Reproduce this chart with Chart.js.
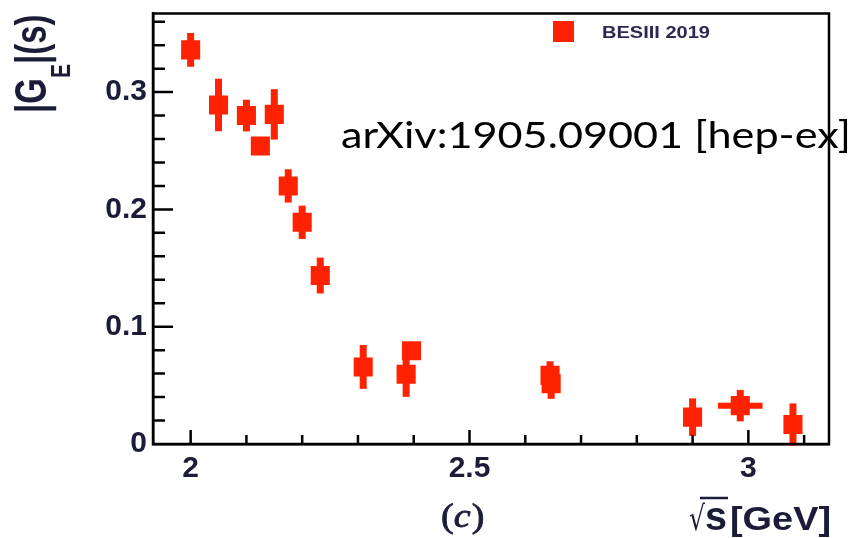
<!DOCTYPE html>
<html>
<head>
<meta charset="utf-8">
<title>|GE|(s) BESIII 2019</title>
<script src="https://cdn.jsdelivr.net/npm/chart.js@4.4.1/dist/chart.umd.min.js"></script>
<style>
	html, body { margin: 0; padding: 0; background: #ffffff; }
	canvas { display: block; }
</style>
</head>
<body>
<canvas id="myChart" width="858" height="538"></canvas>
<script>
// values
var energy = [2.0, 2.05, 2.1, 2.125, 2.15, 2.175, 2.2, 2.2324, 2.3094, 2.3864, 2.396, 2.6444, 2.6464, 2.9, 2.9855, 3.08]
var formFactor = [0.336, 0.289, 0.28, 0.254, 0.281, 0.22, 0.189, 0.1436, 0.0657, 0.0595, 0.0795, 0.0585, 0.0515, 0.0229, 0.0327, 0.0166]
var formFactorErr = [0.0144, 0.0224, 0.0135, 0.006, 0.0215, 0.0142, 0.0142, 0.0153, 0.0187, 0.0193, 0.005, 0.012, 0.013, 0.016, 0.0134, 0.018]
var energyErr = [0, 0, 0, 0, 0, 0, 0, 0, 0, 0, 0, 0, 0, 0, 0.04, 0]
var xTickLabels = [2, 2.5, 3]
var yTickLabels = [0, 0.1, 0.2, 0.3]
var seriesName = "BESIII 2019"
var noteText = "arXiv:1905.09001 [hep-ex]"

var red = "#ff2200"
var ink = "#1b1d38"

function onStep(v, step) {
	return Math.abs(v / step - Math.round(v / step)) < 1e-6
}

function labelFor(list) {
	return function (value) {
		for (var i = 0; i < list.length; i++) {
			if (Math.abs(value - list[i]) < 1e-6) return String(list[i])
		}
		return ""
	}
}

// every minor step between the axis limits
function stepTicks(step) {
	return function (scale) {
		var out = []
		for (var k = Math.ceil(scale.min / step - 1e-9); k * step <= scale.max + 1e-9; k++) {
			out.push({value: Math.round(k * step * 1e6) / 1e6})
		}
		scale.ticks = out
	}
}

// draw text squeezed/stretched to a given width
function fitText(ctx, text, x, y, font, width) {
	ctx.font = font
	var w = ctx.measureText(text).width
	ctx.save()
	ctx.translate(x, y)
	ctx.scale(width / w, 1)
	ctx.fillText(text, 0, 0)
	ctx.restore()
}

var errorBars = {
	id: "errorBars",
	beforeDatasetsDraw: function (chart) {
		var ctx = chart.ctx
		var xs = chart.scales.x
		var ys = chart.scales.y
		ctx.save()
		ctx.strokeStyle = red
		for (var i = 0; i < energy.length; i++) {
			var px = xs.getPixelForValue(energy[i])
			var py = ys.getPixelForValue(formFactor[i])
			ctx.lineWidth = 7
			ctx.beginPath()
			ctx.moveTo(px, ys.getPixelForValue(formFactor[i] + formFactorErr[i]))
			ctx.lineTo(px, ys.getPixelForValue(formFactor[i] - formFactorErr[i]))
			ctx.stroke()
			if (energyErr[i] > 0) {
				ctx.lineWidth = 6
				ctx.beginPath()
				ctx.moveTo(xs.getPixelForValue(energy[i] - energyErr[i]), py)
				ctx.lineTo(xs.getPixelForValue(energy[i] + energyErr[i]), py)
				ctx.stroke()
			}
		}
		ctx.restore()
	},
}

var frameAndText = {
	id: "frameAndText",
	afterDraw: function (chart) {
		var ctx = chart.ctx
		var a = chart.chartArea
		var xs = chart.scales.x
		var ys = chart.scales.y
		ctx.save()

		// frame and inward ticks
		ctx.strokeStyle = "#000"
		ctx.lineWidth = 2.5
		ctx.strokeRect(a.left, a.top, a.right - a.left, a.bottom - a.top)
		ctx.beginPath()
		ys.ticks.forEach(function (t) {
			if (t.value <= 0) return
			var y = ys.getPixelForValue(t.value)
			var len = onStep(t.value, 0.1) ? 20 : 12
			ctx.moveTo(a.left, y)
			ctx.lineTo(a.left + len, y)
		})
		xs.ticks.forEach(function (t) {
			var x = xs.getPixelForValue(t.value)
			var len = onStep(t.value, 0.5) ? 14 : 9
			ctx.moveTo(x, a.bottom)
			ctx.lineTo(x, a.bottom - len)
		})
		ctx.stroke()

		// legend
		ctx.fillStyle = red
		ctx.fillRect(553, 21, 21, 21)
		ctx.fillStyle = "#2a2a52"
		ctx.textBaseline = "alphabetic"
		fitText(ctx, seriesName, 602, 37.5, "bold 17px 'Liberation Sans'", 108)

		// note
		ctx.fillStyle = "#000"
		fitText(ctx, noteText, 341, 148, "36px Lato", 510)

		// x title: radical, s, [GeV]
		ctx.fillStyle = ink
		fitText(ctx, "\u221A", 689, 530, "34px 'DejaVu Sans'", 16)
		fitText(ctx, "s", 705, 530, "bold 40px 'Liberation Sans'", 22)
		fitText(ctx, "[GeV]", 730, 530, "bold 34px 'Liberation Sans'", 101)
		ctx.strokeStyle = ink
		ctx.lineWidth = 2.5
		ctx.beginPath()
		ctx.moveTo(700, 498)
		ctx.lineTo(728, 498)
		ctx.stroke()

		// (c)
		ctx.save()
		ctx.translate(441, 527)
		ctx.scale(1.15, 1)
		ctx.strokeStyle = ink
		ctx.lineWidth = 0.8
		ctx.font = "33px 'Liberation Serif'"
		ctx.fillText("(", 0, 0)
		ctx.strokeText("(", 0, 0)
		var adv = ctx.measureText("(").width
		ctx.font = "italic 33px 'Liberation Serif'"
		ctx.fillText("c", adv, 0)
		ctx.strokeText("c", adv, 0)
		adv += ctx.measureText("c").width + 1
		ctx.font = "33px 'Liberation Serif'"
		ctx.fillText(")", adv, 0)
		ctx.strokeText(")", adv, 0)
		ctx.restore()

		// y title |G_E|(s)
		ctx.save()
		ctx.translate(46, 113)
		ctx.rotate(-Math.PI / 2)
		ctx.scale(1, 1.35)
		ctx.font = "bold 33px 'Liberation Sans'"
		ctx.fillText("|G", 0, 0)
		var pos = ctx.measureText("|G").width
		ctx.font = "bold 21px 'Liberation Sans'"
		ctx.fillText("E", pos, 18)
		pos += ctx.measureText("E").width
		ctx.font = "bold 33px 'Liberation Sans'"
		ctx.fillText("|(s)", pos, 0)
		ctx.restore()

		ctx.restore()
	},
}

var points = energy.map(function (e, i) {
	return {x: e, y: formFactor[i]}
})

var tickFont = {family: "Liberation Sans", size: 30, weight: "bold"}

var ctx = document.getElementById("myChart").getContext("2d")
var myChart = new Chart(ctx, {
	type: "scatter",
	data: {
		datasets: [
			{
				label: seriesName,
				data: points,
				pointStyle: "rect",
				pointRadius: 13.5,
				pointHoverRadius: 13.5,
				pointBorderWidth: 0,
				backgroundColor: red,
				borderColor: red,
			},
		],
	},
	options: {
		responsive: false,
		animation: false,
		events: [],
		layout: {
			padding: {top: 12, right: 29, left: 0, bottom: 0},
		},
		scales: {
			x: {
				type: "linear",
				min: 1.9325,
				max: 3.1446,
				afterBuildTicks: stepTicks(0.1),
				afterFit: function (scale) {
					scale.height = 94
					scale.paddingLeft = 0
					scale.paddingRight = 0
				},
				grid: {drawOnChartArea: false, drawTicks: false},
				border: {display: true, color: "#000", width: 2.5},
				ticks: {
					autoSkip: false,
					maxRotation: 0,
					padding: 7,
					color: ink,
					font: tickFont,
					callback: labelFor(xTickLabels),
				},
			},
			y: {
				type: "linear",
				min: 0,
				max: 0.367,
				afterBuildTicks: stepTicks(0.02),
				afterFit: function (scale) {
					scale.width = 153
					scale.paddingTop = 0
					scale.paddingBottom = 0
				},
				grid: {drawOnChartArea: false, drawTicks: false},
				border: {display: true, color: "#000", width: 2.5},
				ticks: {
					autoSkip: false,
					padding: 6,
					color: ink,
					font: tickFont,
					callback: labelFor(yTickLabels),
				},
			},
		},
		plugins: {
			legend: {display: false},
			tooltip: {enabled: false},
		},
	},
	plugins: [errorBars, frameAndText],
})
</script>
</body>
</html>
